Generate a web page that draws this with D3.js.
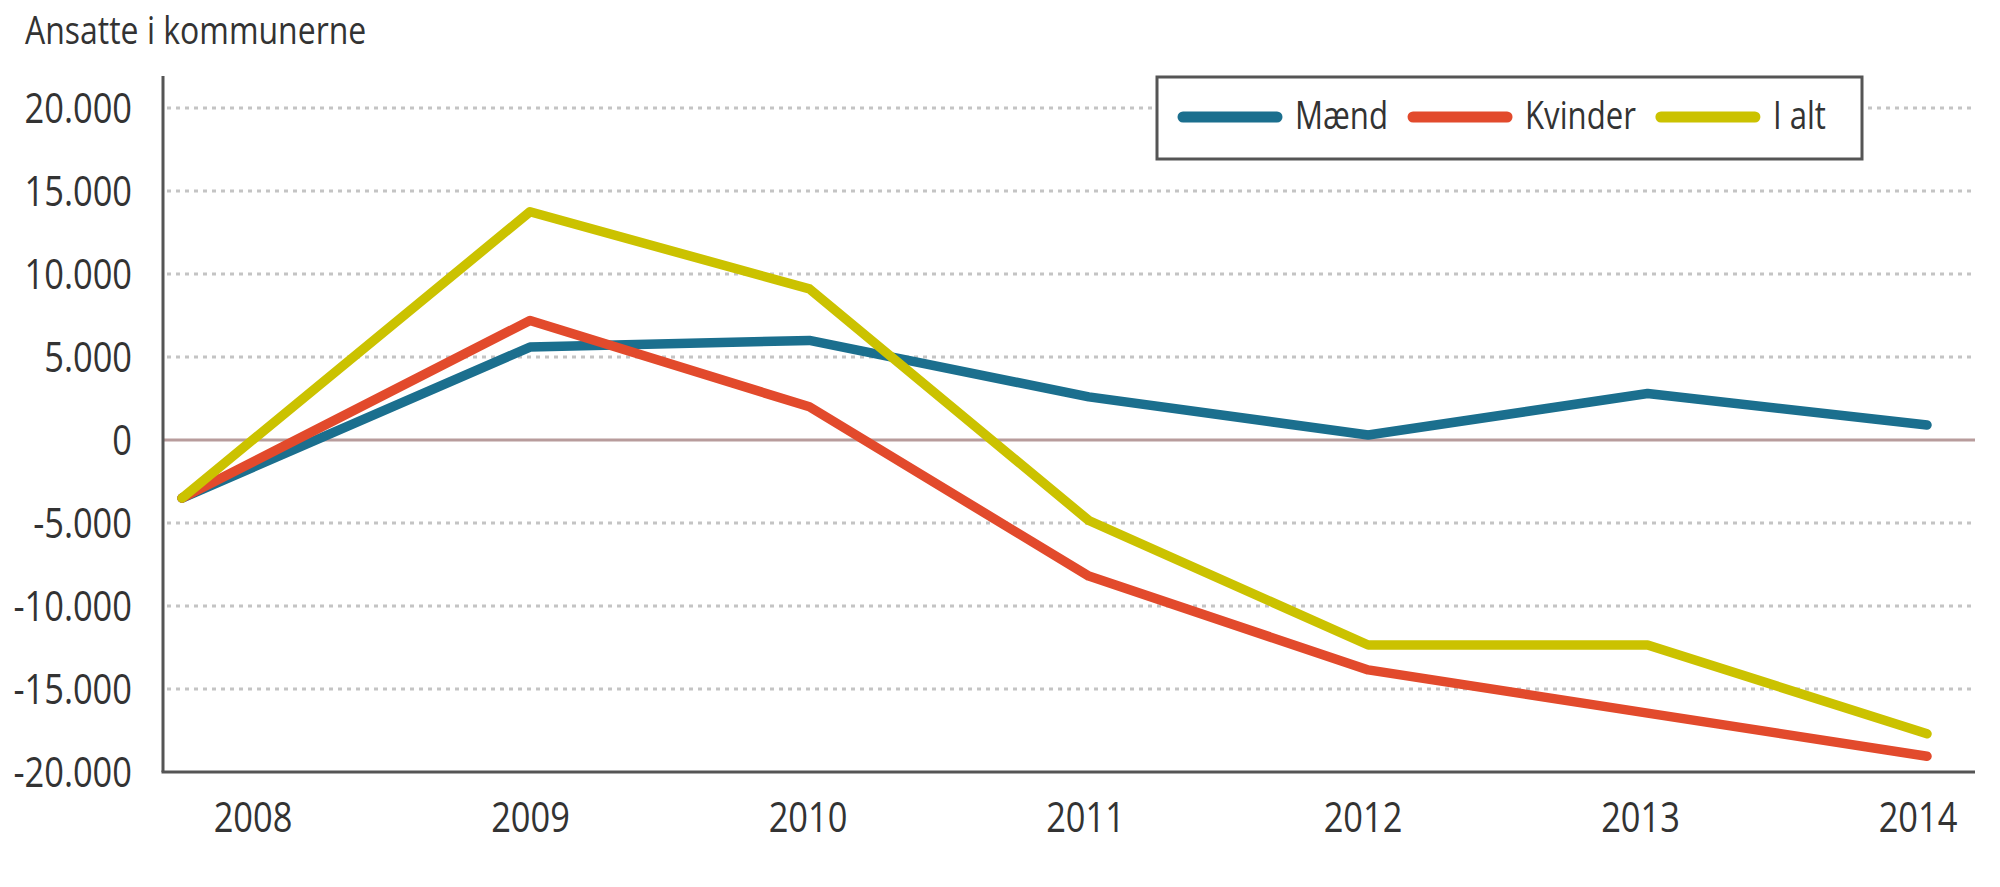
<!DOCTYPE html>
<html>
<head>
<meta charset="utf-8">
<script src="https://cdn.jsdelivr.net/npm/d3@7"></script>
<style>
  body { margin: 0; background: #fff; }
  text { font-family: "Open Sans", "Noto Sans", sans-serif; fill: #333; }
</style>
</head>
<body>
<div id="viz"></div>
<script>
const years = [2008, 2009, 2010, 2011, 2012, 2013, 2014];
const maend = [-3500, 5600, 6000, 2600, 300, 2800, 900];
const kvinder = [-3500, 7200, 2000, -8200, -13850, -16450, -19050];
const iAlt = [-3500, 13750, 9100, -4850, -12350, -12350, -17700];
const yTicks = [20000, 15000, 10000, 5000, 0, -5000, -10000, -15000, -20000];
const seriesNames = ['Mænd', 'Kvinder', 'I alt'];
const seriesColors = ['#1b6f8e', '#e24a2c', '#cbc200'];

const width = 2000, height = 887;
const left = 163, right = 1975, axisTop = 76, axisBottom = 772;
const squeeze = 0.82; // the source font is a condensed one

const svg = d3.select('#viz').append('svg')
  .attr('width', width)
  .attr('height', height);

const y = d3.scaleLinear().domain([-20000, 20000]).range([axisBottom, 108]);
const xLabel = d3.scalePoint().domain(years).range([253, 1918]);
const x = d3.scalePoint().domain(years).range([250.6, 1927]);
// the source chart starts its lines right next to the axis, the rest sit on the years
const xLine = d3.scaleLinear()
  .domain([years[0], years[1], years[years.length - 1]])
  .range([left + 19, x(years[1]), x(years[years.length - 1])]);

const fmt = v => d3.format(',')(v).replace(/,/g, '.').replace('−', '-');

function place(sel, fx, fy) {
  return sel.attr('transform', (d, i) => `translate(${fx(d, i)},${fy(d, i)}) scale(${squeeze},1)`);
}

// title
place(svg.append('text'), () => 25, () => 44)
  .style('font-size', '39px')
  .text('Ansatte i kommunerne');

// gridlines
svg.append('g').selectAll('line')
  .data(yTicks.filter(d => d !== 0 && d !== -20000))
  .enter().append('line')
  .attr('x1', left + 4).attr('x2', right)
  .attr('y1', d => y(d)).attr('y2', d => y(d))
  .attr('stroke', '#c4c4c4')
  .attr('stroke-width', 3)
  .attr('stroke-dasharray', '4,5');

// zero line
svg.append('line')
  .attr('x1', left).attr('x2', right)
  .attr('y1', y(0)).attr('y2', y(0))
  .attr('stroke', '#b89c9c')
  .attr('stroke-width', 3);

// axes
svg.append('line')
  .attr('x1', left).attr('x2', left)
  .attr('y1', axisTop).attr('y2', axisBottom)
  .attr('stroke', '#555').attr('stroke-width', 3);
svg.append('line')
  .attr('x1', left - 1.5).attr('x2', right)
  .attr('y1', axisBottom).attr('y2', axisBottom)
  .attr('stroke', '#555').attr('stroke-width', 3);

// y tick labels
place(svg.append('g').selectAll('text')
  .data(yTicks)
  .enter().append('text'), () => 132, d => y(d))
  .attr('dy', '0.36em')
  .attr('text-anchor', 'end')
  .style('font-size', '42px')
  .text(d => fmt(d));

// x labels
place(svg.append('g').selectAll('text')
  .data(years)
  .enter().append('text'), d => xLabel(d), () => 832)
  .attr('text-anchor', 'middle')
  .style('font-size', '42px')
  .text(d => d);

// lines
const allSeries = [maend, kvinder, iAlt];
const line = d3.line()
  .x((d, i) => xLine(years[i]))
  .y(d => y(d));

allSeries.forEach((vals, s) => {
  svg.append('path')
    .datum(vals)
    .attr('fill', 'none')
    .attr('stroke', seriesColors[s])
    .attr('stroke-width', 9.5)
    .attr('stroke-linejoin', 'round')
    .attr('stroke-linecap', 'round')
    .attr('d', line);
});

// legend
const legend = svg.append('g');
legend.append('rect')
  .attr('x', 1157).attr('y', 77)
  .attr('width', 705).attr('height', 82)
  .attr('fill', '#fff')
  .attr('stroke', '#555')
  .attr('stroke-width', 3);

let lx = 1183;
seriesNames.forEach((name, i) => {
  legend.append('line')
    .attr('x1', lx).attr('x2', lx + 94)
    .attr('y1', 117).attr('y2', 117)
    .attr('stroke', seriesColors[i])
    .attr('stroke-width', 11)
    .attr('stroke-linecap', 'round');
  const t = place(legend.append('text'), () => lx + 112, () => 129)
    .style('font-size', '38px')
    .text(name);
  lx += 112 + t.node().getComputedTextLength() * squeeze + 25;
});
</script>
</body>
</html>
